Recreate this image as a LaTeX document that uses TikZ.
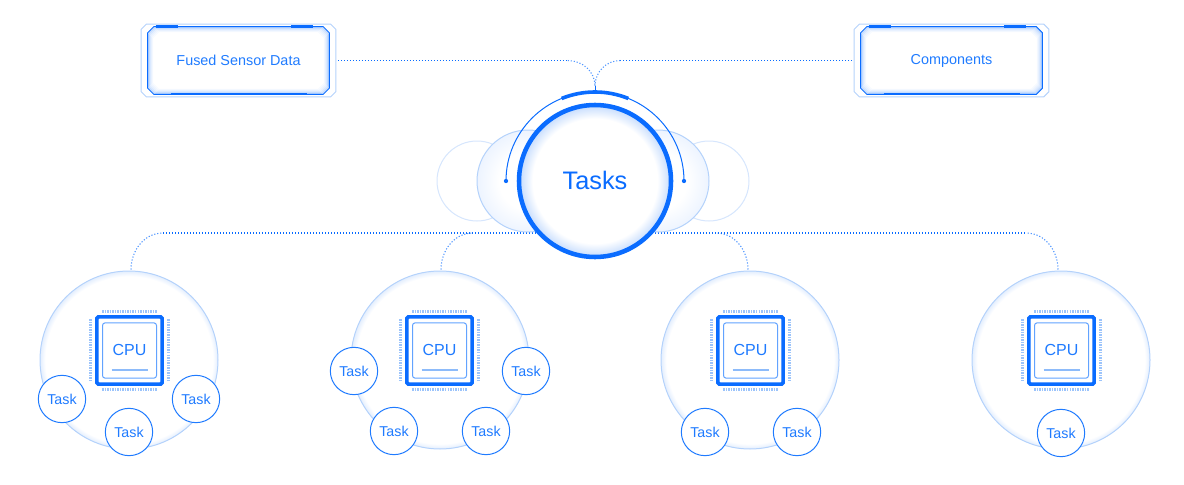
\documentclass[tikz,border=0pt]{standalone}
\usepackage{fontspec}
\setmainfont{Liberation Sans}
\usetikzlibrary{calc}

\definecolor{mainblue}{HTML}{0A6CFF}
\definecolor{textblue}{HTML}{1F7BFF}
\definecolor{paleline}{HTML}{B4D2FB}
\definecolor{faintline}{HTML}{D6E6FD}
\definecolor{pinblue}{HTML}{8DBBFA}
\definecolor{pinlight}{HTML}{9CC4FB}
\definecolor{glowblue}{HTML}{C4DBFD}
\definecolor{softblue}{HTML}{E3EEFE}
\definecolor{sideblue}{HTML}{EDF4FF}

\pgfdeclareradialshading{coreglow}{\pgfpoint{0bp}{0bp}}{color(0bp)=(white); color(20.5bp)=(white); color(25bp)=(glowblue); color(50bp)=(glowblue)}
\pgfdeclareradialshading{sideglow}{\pgfpoint{0bp}{0bp}}{color(0bp)=(white); color(14bp)=(white); color(25bp)=(sideblue); color(50bp)=(sideblue)}
\pgfdeclareradialshading{cpuglow}{\pgfpoint{0bp}{0bp}}{color(0bp)=(white); color(23.5bp)=(white); color(25bp)=(softblue); color(50bp)=(softblue)}

% node, corner cut, inset, style
\newcommand{\cutbox}[4]{%
  \draw[#4] ($(#1.north west)+(#2+#3,#3)$) -- ($(#1.north east)+(-#2-#3,#3)$)
    -- ($(#1.north east)+(-#3,#2+#3)$) -- ($(#1.south east)+(-#3,-#2-#3)$)
    -- ($(#1.south east)+(-#2-#3,-#3)$) -- ($(#1.south west)+(#2+#3,-#3)$)
    -- ($(#1.south west)+(#3,-#2-#3)$) -- ($(#1.north west)+(#3,#2+#3)$) -- cycle;}

\tikzset{
  linkline/.style={mainblue,line width=0.8pt,dash pattern=on 0.9pt off 1.35pt},
  linkbend/.style={linkline,draw=mainblue!70},
  framebox/.style={minimum width=145.5pt,minimum height=54pt,inner sep=0pt},
  innerbox/.style={minimum width=135.75pt,minimum height=50.25pt,inner sep=0pt,text=textblue,font=\fontsize{10.8pt}{12pt}\selectfont},
  barline/.style={mainblue,line width=2.2pt},
  corecircle/.style={circle,shade,shading=coreglow,draw=mainblue,line width=3.4pt,minimum size=114pt,inner sep=0pt,text=mainblue,font=\fontsize{19pt}{20pt}\selectfont},
  sidecircle/.style={circle,shade,shading=sideglow,draw=paleline,line width=0.75pt,minimum size=76.5pt,inner sep=0pt},
  farcircle/.style={circle,fill=white,draw=faintline,line width=0.75pt,minimum size=60pt,inner sep=0pt},
  cpucircle/.style={circle,shade,shading=cpuglow,draw=paleline,line width=0.75pt,minimum size=133.5pt,inner sep=0pt},
  chipbox/.style={draw=mainblue,line width=2.7pt,rounded corners=1.2pt,fill=white,minimum width=49pt,minimum height=50.5pt,inner sep=0pt},
  chipcore/.style={draw=textblue!70,line width=0.75pt,rounded corners=2pt,minimum width=40.5pt,minimum height=41.5pt,inner sep=0pt,text=textblue,font=\fontsize{12pt}{13pt}\selectfont},
  pinline/.style={pinlight,line width=2.25pt,dash pattern=on 1.1pt off 0.8pt},
  tasknode/.style={circle,fill=white,draw=textblue,line width=0.75pt,minimum size=35.5pt,inner sep=0pt,text=textblue,font=\fontsize{10.7pt}{12pt}\selectfont}
}

\begin{document}
\begin{tikzpicture}[x=0.75pt,y=-0.75pt]
  \useasboundingbox (0,0) rectangle (1184,485);

  % upper frames
  \foreach \nm/\x/\txt in {fused/238.5/Fused Sensor Data,parts/951.5/Components} {
    \node[framebox] (\nm) at (\x,60.5) {};
    \cutbox{\nm}{5}{0}{paleline,line width=0.75pt}
    \node[innerbox] (\nm in) at (\nm) {\txt};
    \foreach \g/\o in {1/.30,2/.20,3/.13,4/.08,5/.04} {
      \cutbox{\nm in}{6}{\g}{mainblue,opacity=\o,line width=0.75pt}
    }
    \cutbox{\nm in}{6}{0}{mainblue,line width=0.75pt}
    \draw[barline] ($(\nm in.north west)+(8,0)$) -- ($(\nm in.north west)+(30,0)$);
    \draw[barline] ($(\nm in.north east)+(-38,0)$) -- ($(\nm in.north east)+(-16,0)$);
    \draw[mainblue,line width=1.4pt] ($(\nm in.south west)+(23,0)$) -- ($(\nm in.south east)+(-22,0)$);
  }

  % centre
  \coordinate (merge) at (595,86);
  \draw[linkline] ($(fused.east)+(2,0)$) -- ++(230,0) coordinate (fusedend);
  \draw[linkbend] (fusedend) to[out=0,in=90] (merge);
  \draw[linkline] ($(parts.west)+(-2,0)$) -- ++(-232,0) coordinate (partsend);
  \draw[linkbend] (partsend) to[out=180,in=90] (merge);

  % cpu circles and their links
  \foreach \i/\x/\sx/\dx/\ang in {1/129/2/32/180,2/440/1/32/180,3/750/-2/-32/0,4/1061/-3/-32/0} {
    \node[cpucircle] (cpu\i) at (\x,360) {};
    \coordinate (stem\i) at ($(cpu\i.north)+(\sx,-1)$);
    \coordinate (bus\i) at ($(stem\i)+(\dx,-36.5)$);
    \draw[linkbend] (stem\i) to[out=90,in=\ang] (bus\i);
  }
  \draw[linkline] (bus1) -- (bus4);

  \node[farcircle] (farL) at (477,181) {};
  \node[farcircle] (farR) at (709,181) {};
  \node[sidecircle] (sideL) at (528,181) {};
  \node[sidecircle] (sideR) at (658,181) {};
  \node[corecircle] (tasks) at (595,181) {\raisebox{0.8pt}{Tasks}};

  \coordinate (ringL) at ($(tasks)+(180:66.75pt)$);
  \coordinate (ringR) at ($(tasks)+(0:66.75pt)$);
  \draw[mainblue,line width=0.75pt] (ringL) arc[start angle=180,end angle=0,radius=66.75pt];
  \draw[mainblue,line width=2.7pt] ($(tasks)+(112:66.75pt)$) arc[start angle=112,end angle=68,radius=66.75pt];
  \draw[mainblue,line width=0.75pt] (merge) -- ($(tasks)+(90:66.75pt)$);
  \fill[mainblue] (ringL) circle(1.6pt);
  \fill[mainblue] (ringR) circle(1.6pt);

  % chips
  \foreach \i/\x in {1/129.5,2/439.5,3/750.5,4/1061.5} {
    \node[chipbox] (chip\i) at (\x,350.5) {};
    \node[chipcore] (core\i) at (chip\i) {\raisebox{1.6pt}{CPU}};
    \draw[pinblue,line width=1.3pt] ($(core\i.south west)+(9.5,-8.5)$) -- ($(core\i.south east)+(-9.5,-8.5)$);
    \draw[pinline] ($(chip\i.north west)+(7,-3.5)$) -- ($(chip\i.north east)+(-7,-3.5)$);
    \draw[pinline] ($(chip\i.south west)+(7,3.5)$) -- ($(chip\i.south east)+(-7,3.5)$);
    \draw[pinline] ($(chip\i.north west)+(-4.5,4)$) -- ($(chip\i.south west)+(-4.5,-4)$);
    \draw[pinline] ($(chip\i.north east)+(4.5,4)$) -- ($(chip\i.south east)+(4.5,-4)$);
  }

  % tasks
  \foreach \nm/\x/\y in {a1/62/399,a2/196/399,a3/129/432,b1/354/371,b2/526/371,b3/394/431,b4/486/431,c1/705/432,c2/797/432,d1/1061/433} {
    \node[tasknode] (task\nm) at (\x,\y) {Task};
  }
\end{tikzpicture}
\end{document}
